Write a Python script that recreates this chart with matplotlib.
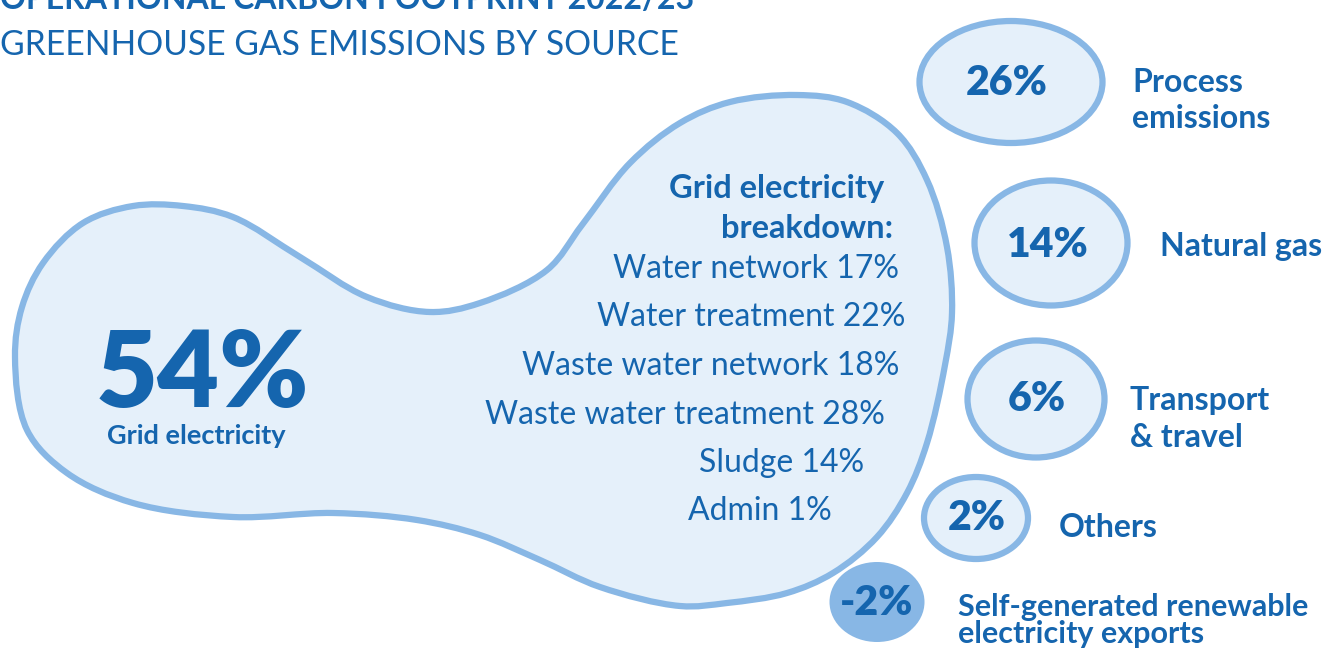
import matplotlib
matplotlib.use("Agg")
import matplotlib.pyplot as plt
import numpy as np
from matplotlib import patches
from matplotlib.path import Path

# ---- data ----
title = "OPERATIONAL CARBON FOOTPRINT 2022/23"
subtitle = "GREENHOUSE GAS EMISSIONS BY SOURCE"

main_label = "Grid electricity"
main_share = 54

breakdown_title = "Grid electricity\nbreakdown:"
breakdown_labels = ["Water network", "Water treatment", "Waste water network",
                    "Waste water treatment", "Sludge", "Admin"]
breakdown_shares = [17, 22, 18, 28, 14, 1]

other_labels = ["Process\nemissions", "Natural gas", "Transport\n& travel",
                "Others", "Self-generated renewable\nelectricity exports"]
other_shares = [26, 14, 6, 2, -2]

# ---- style ----
TEXT = "#1565ae"
EDGE = "#88b7e5"
FILL = "#e5f0fa"
FONT = "Lato"

W, H = 1328, 649
fig = plt.figure(figsize=(W / 100, H / 100), dpi=100)
ax = fig.add_axes([0, 0, 1, 1])
ax.set_xlim(0, W)
ax.set_ylim(H, 0)
ax.axis("off")


def closed_spline(pts, alpha=0.5):
    # centripetal Catmull-Rom through the points, as cubic bezier segments
    pts = np.asarray(pts, dtype=float)
    n = len(pts)
    verts = [pts[0]]
    codes = [Path.MOVETO]
    for i in range(n):
        p0, p1, p2, p3 = pts[i - 1], pts[i], pts[(i + 1) % n], pts[(i + 2) % n]
        d1 = np.linalg.norm(p1 - p0) ** alpha
        d2 = np.linalg.norm(p2 - p1) ** alpha
        d3 = np.linalg.norm(p3 - p2) ** alpha
        b1 = (d1**2 * p2 - d2**2 * p0 + (2 * d1**2 + 3 * d1 * d2 + d2**2) * p1) / (3 * d1 * (d1 + d2))
        b2 = (d3**2 * p1 - d2**2 * p3 + (2 * d3**2 + 3 * d3 * d2 + d2**2) * p2) / (3 * d3 * (d3 + d2))
        verts += [b1, b2, p2]
        codes += [Path.CURVE4] * 3
    verts.append(pts[0])
    codes.append(Path.CLOSEPOLY)
    return Path(verts, codes)


# footprint outline (layout only)
blob = [(15, 357), (22, 307), (43, 263), (83, 223), (133, 206), (183, 206),
        (233, 217), (300, 257), (367, 297), (430, 312), (480, 303),
        (547, 270), (582, 225), (630, 163), (680, 123), (730, 102),
        (797, 95), (847, 102), (897, 133), (927, 180), (947, 247),
        (952, 313), (945, 365), (927, 443), (907, 493), (877, 537),
        (833, 573), (787, 593), (727, 603), (680, 606), (600, 587),
        (540, 560), (480, 535), (417, 520), (333, 513), (233, 517),
        (133, 503), (67, 473), (27, 430)]
ax.add_patch(patches.PathPatch(closed_spline(blob), facecolor=FILL,
                               edgecolor=EDGE, linewidth=4.5, zorder=1))

# titles
ax.text(0, 9, title, fontsize=23, fontweight="bold", color=TEXT,
        family=FONT, ha="left", va="baseline")
ax.text(0, 55, subtitle, fontsize=24.2, fontweight="normal", color=TEXT,
        family=FONT, ha="left", va="baseline")

# main figure
ax.text(202, 407, f"{main_share}%", fontsize=77, fontweight="heavy",
        color=TEXT, family=FONT, ha="center", va="baseline", zorder=3)
ax.text(196, 444, main_label, fontsize=19.5, fontweight="bold", color=TEXT,
        family=FONT, ha="center", va="baseline", zorder=3)

# breakdown list
bt = breakdown_title.split("\n")
ax.text(884, 198, bt[0], fontsize=23.5, fontweight="bold", color=TEXT,
        family=FONT, ha="right", va="baseline", zorder=3)
ax.text(893, 238, bt[1], fontsize=23.5, fontweight="bold", color=TEXT,
        family=FONT, ha="right", va="baseline", zorder=3)
right_edges = [899, 905, 899, 885, 864, 832]
for i, (lab, v) in enumerate(zip(breakdown_labels, breakdown_shares)):
    ax.text(right_edges[i], 278 + i * 48.5, f"{lab} {v}%", fontsize=23,
            color=TEXT, family=FONT, ha="right", va="baseline", zorder=3)

# other sources: bubble centre, size, text positions, line step
bubbles = [
    dict(c=(1011, 82), w=183, h=122, tx=1007, ty=95, lx=1132, ly=92, step=36),
    dict(c=(1051, 243), w=153, h=125, tx=1048, ty=257, lx=1160, ly=256, step=36),
    dict(c=(1036, 399), w=137, h=117, tx=1037, ty=411, lx=1130, ly=410, step=37),
    dict(c=(976, 518), w=104, h=82, tx=977, ty=530, lx=1059, ly=537, step=36),
    dict(c=(877, 602), w=95, h=80, tx=877, ty=615, lx=958, ly=616, step=27),
]
for b, lab, v in zip(bubbles, other_labels, other_shares):
    if v < 0:
        e = patches.Ellipse(b["c"], b["w"], b["h"], facecolor=EDGE,
                            edgecolor="none", zorder=2)
    else:
        e = patches.Ellipse(b["c"], b["w"], b["h"], facecolor=FILL,
                            edgecolor=EDGE, linewidth=4.5, zorder=2)
    ax.add_patch(e)
    ax.text(b["tx"], b["ty"], f"{v}%", fontsize=29.5, fontweight="heavy",
            color=TEXT, family=FONT, ha="center", va="baseline", zorder=3)
    lsize = 22 if len(lab) > 20 else 23
    for k, line in enumerate(lab.split("\n")):
        ax.text(b["lx"], b["ly"] + k * b["step"], line, fontsize=lsize,
                fontweight="bold", color=TEXT, family=FONT, ha="left",
                va="baseline", zorder=3)

fig.savefig("out.png", dpi=100)
